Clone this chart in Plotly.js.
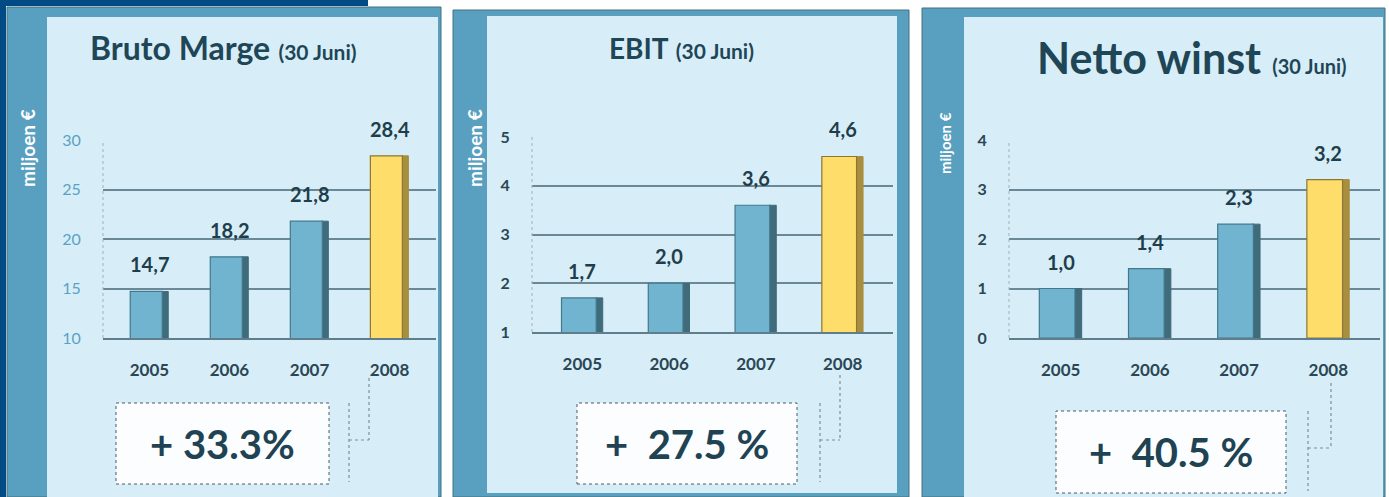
<!DOCTYPE html>
<html>
<head>
<meta charset="utf-8">
<script src="https://cdn.plot.ly/plotly-3.0.1.min.js"></script>
<style>html,body{margin:0;padding:0;background:#fff;}#chart{width:1389px;height:497px;}</style>
</head>
<body>
<div id="chart"></div>
<script>
// ---- data ----
const years = ['2005', '2006', '2007', '2008'];
const brutoMarge = [14.7, 18.2, 21.8, 28.4];
const ebit = [1.7, 2.0, 3.6, 4.6];
const nettoWinst = [1.0, 1.4, 2.3, 3.2];
const titles = ['Bruto Marge', 'EBIT', 'Netto winst'];
const subtitle = '(30 Juni)';
const yTitle = 'miljoen €';
const growthLabels = ['+ 33.3%', '+\u00a0 27.5 %', '+\u00a0 40.5 %'];
const yTicks1 = [10, 15, 20, 25, 30];
const yTicks2 = [1, 2, 3, 4, 5];
const yTicks3 = [0, 1, 2, 3, 4];

// ---- layout helpers ----
const W = 1389, H = 497;
const px = x => x / W;
const py = y => 1 - y / H;
const FONT = 'Lato, "Open Sans", sans-serif';
const DARK = '#1f4656';

const series = [brutoMarge, ebit, nettoWinst];
const panels = [
  {outer: [7, 7, 441, 497], inner: [47, 17, 438, 497], plot: [103, 140, 436, 338], range: [10, 30], ticks: yTicks1,
   tickColor: '#5aa2c3', tickBold: false, titleX: 224, titleY: 48, titleSize: 32, subSize: 21, ylabX: 28, ylabY: 148, ylabSize: 19,
   box: [116, 403, 329, 484], conn: {x1: 369, yTop: 378, yMid: 440, x0: 349}},
  {outer: [453, 10, 909, 497], inner: [487, 16, 897, 493], plot: [532, 137, 893, 332], range: [1, 5], ticks: yTicks2,
   tickColor: '#2b4654', tickBold: true, titleX: 681, titleY: 48, titleSize: 28, subSize: 21, ylabX: 475, ylabY: 148, ylabSize: 19,
   box: [577, 403, 797, 484], conn: {x1: 840, yTop: 375, yMid: 440, x0: 820}},
  {outer: [922, 8, 1385, 497], inner: [964, 17, 1383, 497], plot: [1009, 140, 1380, 338], range: [0, 4], ticks: yTicks3,
   tickColor: '#2b4654', tickBold: true, titleX: 1192, titleY: 58, titleSize: 43, subSize: 20, ylabX: 945, ylabY: 143, ylabSize: 15,
   box: [1056, 411, 1286, 493], conn: {x1: 1331, yTop: 383, yMid: 448, x0: 1308}}
];

const traces = [];
const shapes = [];
const annotations = [];
const layout = {
  width: W, height: H,
  margin: {l: 0, r: 0, t: 0, b: 0},
  paper_bgcolor: '#ffffff',
  plot_bgcolor: 'rgba(0,0,0,0)',
  showlegend: false,
  barmode: 'overlay',
  font: {family: FONT, color: DARK}
};

// navy background strips
shapes.push({type: 'rect', xref: 'paper', yref: 'paper', x0: px(0), x1: px(6), y0: py(497), y1: py(0),
  fillcolor: '#004b86', line: {width: 0}, layer: 'below'});
shapes.push({type: 'rect', xref: 'paper', yref: 'paper', x0: px(0), x1: px(368), y0: py(6), y1: py(0),
  fillcolor: '#004b86', line: {width: 0}, layer: 'below'});

panels.forEach((p, i) => {
  const n = i === 0 ? '' : String(i + 1);
  const xa = 'x' + n, ya = 'y' + n;
  const vals = series[i];
  const last = vals.length - 1;
  const front = vals.map((v, k) => k === last ? '#fedd6b' : '#70b4d0');
  const frontLine = vals.map((v, k) => k === last ? '#8a7636' : '#43788c');
  const side = vals.map((v, k) => k === last ? '#a88e3e' : '#3f6b7b');

  // panel frames
  shapes.push({type: 'rect', xref: 'paper', yref: 'paper', x0: px(p.outer[0]), x1: px(p.outer[2]), y0: py(p.outer[3]), y1: py(p.outer[1]),
    fillcolor: '#589fc0', line: {color: '#44707f', width: 1}, layer: 'below'});
  shapes.push({type: 'rect', xref: 'paper', yref: 'paper', x0: px(p.inner[0]), x1: px(p.inner[2]), y0: py(p.inner[3]), y1: py(p.inner[1]),
    fillcolor: '#d7eef8', line: {width: 0}, layer: 'below'});

  // bars: darker side face then front face
  traces.push({type: 'bar', x: years, y: vals, xaxis: xa, yaxis: ya, width: 0.085, offset: 0.15,
    marker: {color: side, line: {color: side, width: 1}}, hoverinfo: 'skip'});
  traces.push({type: 'bar', x: years, y: vals, xaxis: xa, yaxis: ya, width: 0.40, offset: -0.24,
    marker: {color: front, line: {color: frontLine, width: 1.2}}, hoverinfo: 'skip'});

  // value labels (category axes use the category's serial index)
  vals.forEach((v, k) => {
    annotations.push({xref: xa, yref: ya, x: k, y: v, text: '<b>' + v.toFixed(1).replace('.', ',') + '</b>',
      showarrow: false, yanchor: 'bottom', yshift: 13, xshift: 0,
      font: {family: FONT, size: 20, color: '#1f3e4c'}});
  });

  layout['xaxis' + n] = {
    domain: [px(p.plot[0]), px(p.plot[2])], anchor: ya, type: 'category', range: [-0.58, 3.58],
    showgrid: false, zeroline: false, showline: true, linecolor: '#5f7d8a', linewidth: 2,
    ticks: 'outside', ticklen: 16, tickcolor: 'rgba(0,0,0,0)',
    tickfont: {family: FONT, size: 17, color: '#2b4654', weight: 'bold'}, fixedrange: true
  };
  layout['yaxis' + n] = {
    domain: [py(p.plot[3]), py(p.plot[1])], anchor: xa, range: p.range, tickvals: p.ticks,
    showgrid: true, gridcolor: '#6a8895', gridwidth: 2, zeroline: false, showline: false,
    ticks: 'outside', ticklen: 18, tickcolor: 'rgba(0,0,0,0)',
    tickfont: {family: FONT, size: 16, color: p.tickColor, weight: p.tickBold ? 'bold' : 'normal'}, fixedrange: true
  };

  // dotted left axis line
  shapes.push({type: 'line', xref: xa + ' domain', yref: ya + ' domain', x0: 0, x1: 0, y0: 0, y1: 1,
    line: {color: '#a3b0b5', width: 1, dash: 'dot'}});

  // title
  annotations.push({xref: 'paper', yref: 'paper', x: px(p.titleX), y: py(p.titleY), xanchor: 'center', yanchor: 'middle',
    showarrow: false,
    text: '<b>' + titles[i] + '</b> <span style="font-size:' + p.subSize + 'px"><b>' + subtitle + '</b></span>',
    font: {family: FONT, size: p.titleSize, color: DARK}});

  // y axis title on frame strip
  annotations.push({xref: 'paper', yref: 'paper', x: px(p.ylabX), y: py(p.ylabY), xanchor: 'center', yanchor: 'middle',
    showarrow: false, textangle: -90, text: '<b>' + yTitle + '</b>',
    font: {family: FONT, size: p.ylabSize, color: '#ffffff'}});

  // growth box
  shapes.push({type: 'rect', xref: 'paper', yref: 'paper', x0: px(p.box[0]), x1: px(p.box[2]), y0: py(p.box[3]), y1: py(p.box[1]),
    fillcolor: '#fbfdff', line: {color: '#4a5a62', width: 1, dash: 'dot'}});
  annotations.push({xref: 'paper', yref: 'paper', x: px((p.box[0] + p.box[2]) / 2), y: py((p.box[1] + p.box[3]) / 2),
    xanchor: 'center', yanchor: 'middle', showarrow: false, text: '<b>' + growthLabels[i] + '</b>',
    font: {family: FONT, size: 40, color: '#1f4353'}});

  // connector
  const c = p.conn;
  const cl = {color: '#7f8f96', width: 1.2, dash: 'dot'};
  shapes.push({type: 'line', xref: 'paper', yref: 'paper', x0: px(c.x1), x1: px(c.x1), y0: py(c.yTop), y1: py(c.yMid), line: cl});
  shapes.push({type: 'line', xref: 'paper', yref: 'paper', x0: px(c.x0), x1: px(c.x1), y0: py(c.yMid), y1: py(c.yMid), line: cl});
  shapes.push({type: 'line', xref: 'paper', yref: 'paper', x0: px(c.x0), x1: px(c.x0), y0: py(p.box[1]), y1: py(p.box[3] - 2), line: cl});
});

layout.shapes = shapes;
layout.annotations = annotations;

Plotly.newPlot('chart', traces, layout, {displayModeBar: false, staticPlot: true});
</script>
</body>
</html>
